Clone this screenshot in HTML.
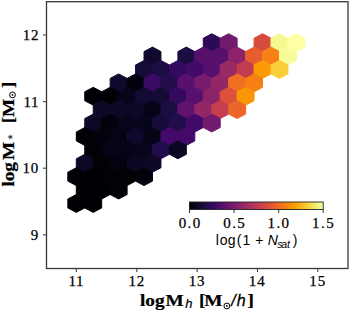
<!DOCTYPE html>
<html><head><meta charset="utf-8"><style>
html,body{margin:0;padding:0;background:#fff;}
body{width:350px;height:311px;overflow:hidden;}
svg{display:block;}
</style></head><body>
<svg width="350" height="311" viewBox="0 0 350 311">
<defs><linearGradient id="cb" x1="0" x2="1" y1="0" y2="0"><stop offset="0.0000" stop-color="#000004"/><stop offset="0.0312" stop-color="#040312"/><stop offset="0.0625" stop-color="#0b0724"/><stop offset="0.0938" stop-color="#150b37"/><stop offset="0.1250" stop-color="#210c4a"/><stop offset="0.1562" stop-color="#2f0a5b"/><stop offset="0.1875" stop-color="#3d0965"/><stop offset="0.2188" stop-color="#4a0c6b"/><stop offset="0.2500" stop-color="#57106e"/><stop offset="0.2812" stop-color="#64156e"/><stop offset="0.3125" stop-color="#71196e"/><stop offset="0.3438" stop-color="#7d1e6d"/><stop offset="0.3750" stop-color="#8a226a"/><stop offset="0.4062" stop-color="#972766"/><stop offset="0.4375" stop-color="#a32c61"/><stop offset="0.4688" stop-color="#b0315b"/><stop offset="0.5000" stop-color="#bc3754"/><stop offset="0.5312" stop-color="#c73e4c"/><stop offset="0.5625" stop-color="#d24644"/><stop offset="0.5938" stop-color="#db503b"/><stop offset="0.6250" stop-color="#e45a31"/><stop offset="0.6562" stop-color="#eb6628"/><stop offset="0.6875" stop-color="#f1731d"/><stop offset="0.7188" stop-color="#f68013"/><stop offset="0.7500" stop-color="#f98e09"/><stop offset="0.7812" stop-color="#fb9d07"/><stop offset="0.8125" stop-color="#fcac11"/><stop offset="0.8438" stop-color="#fbbc21"/><stop offset="0.8750" stop-color="#f9cb35"/><stop offset="0.9062" stop-color="#f5db4c"/><stop offset="0.9375" stop-color="#f2ea69"/><stop offset="0.9688" stop-color="#f3f68a"/><stop offset="1.0000" stop-color="#fcffa4"/></linearGradient></defs>
<g stroke-width="1.0" stroke-linejoin="miter">
<polygon points="220.21,47.12 220.21,38.18 211.74,33.72 203.28,38.18 203.28,47.12 211.74,51.58" fill="#2b0b57" stroke="#2b0b57"/>
<polygon points="237.14,47.12 237.14,38.18 228.67,33.72 220.21,38.18 220.21,47.12 228.67,51.58" fill="#721a6e" stroke="#721a6e"/>
<polygon points="270.99,47.12 270.99,38.18 262.53,33.72 254.06,38.18 254.06,47.12 262.53,51.58" fill="#d74b3f" stroke="#d74b3f"/>
<polygon points="287.92,47.12 287.92,38.18 279.46,33.72 271.00,38.18 271.00,47.12 279.46,51.58" fill="#f5f992" stroke="#f5f992"/>
<polygon points="304.85,47.12 304.85,38.18 296.39,33.72 287.93,38.18 287.93,47.12 296.39,51.58" fill="#fcffa4" stroke="#fcffa4"/>
<polygon points="160.95,60.52 160.95,51.58 152.49,47.12 144.02,51.58 144.02,60.52 152.49,64.98" fill="#10092d" stroke="#10092d"/>
<polygon points="194.81,60.52 194.81,51.58 186.34,47.12 177.88,51.58 177.88,60.52 186.34,64.98" fill="#1b0c41" stroke="#1b0c41"/>
<polygon points="211.74,60.52 211.74,51.58 203.27,47.12 194.81,51.58 194.81,60.52 203.27,64.98" fill="#57106e" stroke="#57106e"/>
<polygon points="228.67,60.52 228.67,51.58 220.20,47.12 211.74,51.58 211.74,60.52 220.20,64.98" fill="#57106e" stroke="#57106e"/>
<polygon points="245.60,60.52 245.60,51.58 237.13,47.12 228.67,51.58 228.67,60.52 237.13,64.98" fill="#8c2369" stroke="#8c2369"/>
<polygon points="262.53,60.52 262.53,51.58 254.06,47.12 245.60,51.58 245.60,60.52 254.06,64.98" fill="#e75e2e" stroke="#e75e2e"/>
<polygon points="279.46,60.52 279.46,51.58 271.00,47.12 262.53,51.58 262.53,60.52 271.00,64.98" fill="#f68013" stroke="#f68013"/>
<polygon points="296.39,60.52 296.39,51.58 287.93,47.12 279.46,51.58 279.46,60.52 287.93,64.98" fill="#f8fb9a" stroke="#f8fb9a"/>
<polygon points="152.48,73.92 152.48,64.98 144.02,60.52 135.55,64.98 135.55,73.92 144.02,78.38" fill="#160b39" stroke="#160b39"/>
<polygon points="169.41,73.92 169.41,64.98 160.95,60.52 152.48,64.98 152.48,73.92 160.95,78.38" fill="#1e0c45" stroke="#1e0c45"/>
<polygon points="186.34,73.92 186.34,64.98 177.88,60.52 169.41,64.98 169.41,73.92 177.88,78.38" fill="#340a5f" stroke="#340a5f"/>
<polygon points="203.28,73.92 203.28,64.98 194.81,60.52 186.34,64.98 186.34,73.92 194.81,78.38" fill="#420a68" stroke="#420a68"/>
<polygon points="220.21,73.92 220.21,64.98 211.74,60.52 203.28,64.98 203.28,73.92 211.74,78.38" fill="#57106e" stroke="#57106e"/>
<polygon points="237.14,73.92 237.14,64.98 228.67,60.52 220.21,64.98 220.21,73.92 228.67,78.38" fill="#9b2964" stroke="#9b2964"/>
<polygon points="254.07,73.92 254.07,64.98 245.60,60.52 237.14,64.98 237.14,73.92 245.60,78.38" fill="#c33b4f" stroke="#c33b4f"/>
<polygon points="270.99,73.92 270.99,64.98 262.53,60.52 254.06,64.98 254.06,73.92 262.53,78.38" fill="#fb9b06" stroke="#fb9b06"/>
<polygon points="287.92,73.92 287.92,64.98 279.46,60.52 271.00,64.98 271.00,73.92 279.46,78.38" fill="#f8cf3a" stroke="#f8cf3a"/>
<polygon points="127.09,87.32 127.09,78.38 118.62,73.92 110.16,78.38 110.16,87.32 118.62,91.78" fill="#10092d" stroke="#10092d"/>
<polygon points="144.02,87.32 144.02,78.38 135.56,73.92 127.09,78.38 127.09,87.32 135.56,91.78" fill="#02020c" stroke="#02020c"/>
<polygon points="160.95,87.32 160.95,78.38 152.49,73.92 144.02,78.38 144.02,87.32 152.49,91.78" fill="#390963" stroke="#390963"/>
<polygon points="177.88,87.32 177.88,78.38 169.42,73.92 160.95,78.38 160.95,87.32 169.42,91.78" fill="#230c4c" stroke="#230c4c"/>
<polygon points="194.81,87.32 194.81,78.38 186.34,73.92 177.88,78.38 177.88,87.32 186.34,91.78" fill="#57106e" stroke="#57106e"/>
<polygon points="211.74,87.32 211.74,78.38 203.27,73.92 194.81,78.38 194.81,87.32 203.27,91.78" fill="#771c6d" stroke="#771c6d"/>
<polygon points="228.67,87.32 228.67,78.38 220.20,73.92 211.74,78.38 211.74,87.32 220.20,91.78" fill="#932667" stroke="#932667"/>
<polygon points="245.60,87.32 245.60,78.38 237.13,73.92 228.67,78.38 228.67,87.32 237.13,91.78" fill="#f06f20" stroke="#f06f20"/>
<polygon points="262.53,87.32 262.53,78.38 254.06,73.92 245.60,78.38 245.60,87.32 254.06,91.78" fill="#f68013" stroke="#f68013"/>
<polygon points="101.69,100.72 101.69,91.78 93.23,87.32 84.76,91.78 84.76,100.72 93.23,105.18" fill="#000004" stroke="#000004"/>
<polygon points="118.62,100.72 118.62,91.78 110.16,87.32 101.69,91.78 101.69,100.72 110.16,105.18" fill="#010106" stroke="#010106"/>
<polygon points="135.56,100.72 135.56,91.78 127.09,87.32 118.62,91.78 118.62,100.72 127.09,105.18" fill="#07051b" stroke="#07051b"/>
<polygon points="152.48,100.72 152.48,91.78 144.02,87.32 135.55,91.78 135.55,100.72 144.02,105.18" fill="#140b34" stroke="#140b34"/>
<polygon points="169.41,100.72 169.41,91.78 160.95,87.32 152.48,91.78 152.48,100.72 160.95,105.18" fill="#140b34" stroke="#140b34"/>
<polygon points="186.34,100.72 186.34,91.78 177.88,87.32 169.41,91.78 169.41,100.72 177.88,105.18" fill="#340a5f" stroke="#340a5f"/>
<polygon points="203.28,100.72 203.28,91.78 194.81,87.32 186.34,91.78 186.34,100.72 194.81,105.18" fill="#57106e" stroke="#57106e"/>
<polygon points="220.21,100.72 220.21,91.78 211.74,87.32 203.28,91.78 203.28,100.72 211.74,105.18" fill="#8c2369" stroke="#8c2369"/>
<polygon points="237.14,100.72 237.14,91.78 228.67,87.32 220.21,91.78 220.21,100.72 228.67,105.18" fill="#dd513a" stroke="#dd513a"/>
<polygon points="254.07,100.72 254.07,91.78 245.60,87.32 237.14,91.78 237.14,100.72 245.60,105.18" fill="#fb9706" stroke="#fb9706"/>
<polygon points="110.16,114.12 110.16,105.18 101.69,100.72 93.23,105.18 93.23,114.12 101.69,118.58" fill="#0c0826" stroke="#0c0826"/>
<polygon points="127.09,114.12 127.09,105.18 118.62,100.72 110.16,105.18 110.16,114.12 118.62,118.58" fill="#0c0826" stroke="#0c0826"/>
<polygon points="144.02,114.12 144.02,105.18 135.56,100.72 127.09,105.18 127.09,114.12 135.56,118.58" fill="#0c0826" stroke="#0c0826"/>
<polygon points="160.95,114.12 160.95,105.18 152.49,100.72 144.02,105.18 144.02,114.12 152.49,118.58" fill="#050417" stroke="#050417"/>
<polygon points="177.88,114.12 177.88,105.18 169.42,100.72 160.95,105.18 160.95,114.12 169.42,118.58" fill="#1b0c41" stroke="#1b0c41"/>
<polygon points="194.81,114.12 194.81,105.18 186.34,100.72 177.88,105.18 177.88,114.12 186.34,118.58" fill="#5f136e" stroke="#5f136e"/>
<polygon points="211.74,114.12 211.74,105.18 203.27,100.72 194.81,105.18 194.81,114.12 203.27,118.58" fill="#932667" stroke="#932667"/>
<polygon points="228.67,114.12 228.67,105.18 220.20,100.72 211.74,105.18 211.74,114.12 220.20,118.58" fill="#c63d4d" stroke="#c63d4d"/>
<polygon points="245.60,114.12 245.60,105.18 237.13,100.72 228.67,105.18 228.67,114.12 237.13,118.58" fill="#eb6628" stroke="#eb6628"/>
<polygon points="101.69,127.52 101.69,118.58 93.23,114.12 84.76,118.58 84.76,127.52 93.23,131.98" fill="#0c0826" stroke="#0c0826"/>
<polygon points="118.62,127.52 118.62,118.58 110.16,114.12 101.69,118.58 101.69,127.52 110.16,131.98" fill="#02020c" stroke="#02020c"/>
<polygon points="135.56,127.52 135.56,118.58 127.09,114.12 118.62,118.58 118.62,127.52 127.09,131.98" fill="#07051b" stroke="#07051b"/>
<polygon points="152.48,127.52 152.48,118.58 144.02,114.12 135.55,118.58 135.55,127.52 144.02,131.98" fill="#07051b" stroke="#07051b"/>
<polygon points="169.41,127.52 169.41,118.58 160.95,114.12 152.48,118.58 152.48,127.52 160.95,131.98" fill="#160b39" stroke="#160b39"/>
<polygon points="186.34,127.52 186.34,118.58 177.88,114.12 169.41,118.58 169.41,127.52 177.88,131.98" fill="#230c4c" stroke="#230c4c"/>
<polygon points="203.28,127.52 203.28,118.58 194.81,114.12 186.34,118.58 186.34,127.52 194.81,131.98" fill="#420a68" stroke="#420a68"/>
<polygon points="220.21,127.52 220.21,118.58 211.74,114.12 203.28,118.58 203.28,127.52 211.74,131.98" fill="#721a6e" stroke="#721a6e"/>
<polygon points="93.23,140.92 93.23,131.98 84.77,127.52 76.30,131.98 76.30,140.92 84.77,145.38" fill="#010106" stroke="#010106"/>
<polygon points="110.16,140.92 110.16,131.98 101.69,127.52 93.23,131.98 93.23,140.92 101.69,145.38" fill="#02020c" stroke="#02020c"/>
<polygon points="127.09,140.92 127.09,131.98 118.62,127.52 110.16,131.98 110.16,140.92 118.62,145.38" fill="#050417" stroke="#050417"/>
<polygon points="144.02,140.92 144.02,131.98 135.56,127.52 127.09,131.98 127.09,140.92 135.56,145.38" fill="#10092d" stroke="#10092d"/>
<polygon points="160.95,140.92 160.95,131.98 152.49,127.52 144.02,131.98 144.02,140.92 152.49,145.38" fill="#050417" stroke="#050417"/>
<polygon points="177.88,140.92 177.88,131.98 169.42,127.52 160.95,131.98 160.95,140.92 169.42,145.38" fill="#450a69" stroke="#450a69"/>
<polygon points="194.81,140.92 194.81,131.98 186.34,127.52 177.88,131.98 177.88,140.92 186.34,145.38" fill="#450a69" stroke="#450a69"/>
<polygon points="101.69,154.32 101.69,145.38 93.23,140.92 84.76,145.38 84.76,154.32 93.23,158.78" fill="#010106" stroke="#010106"/>
<polygon points="118.62,154.32 118.62,145.38 110.16,140.92 101.69,145.38 101.69,154.32 110.16,158.78" fill="#050417" stroke="#050417"/>
<polygon points="135.56,154.32 135.56,145.38 127.09,140.92 118.62,145.38 118.62,154.32 127.09,158.78" fill="#050417" stroke="#050417"/>
<polygon points="152.48,154.32 152.48,145.38 144.02,140.92 135.55,145.38 135.55,154.32 144.02,158.78" fill="#07051b" stroke="#07051b"/>
<polygon points="169.41,154.32 169.41,145.38 160.95,140.92 152.48,145.38 152.48,154.32 160.95,158.78" fill="#230c4c" stroke="#230c4c"/>
<polygon points="186.34,154.32 186.34,145.38 177.88,140.92 169.41,145.38 169.41,154.32 177.88,158.78" fill="#0a0722" stroke="#0a0722"/>
<polygon points="93.23,167.72 93.23,158.78 84.77,154.32 76.30,158.78 76.30,167.72 84.77,172.18" fill="#0c0826" stroke="#0c0826"/>
<polygon points="110.16,167.72 110.16,158.78 101.69,154.32 93.23,158.78 93.23,167.72 101.69,172.18" fill="#010106" stroke="#010106"/>
<polygon points="127.09,167.72 127.09,158.78 118.62,154.32 110.16,158.78 110.16,167.72 118.62,172.18" fill="#030210" stroke="#030210"/>
<polygon points="144.02,167.72 144.02,158.78 135.56,154.32 127.09,158.78 127.09,167.72 135.56,172.18" fill="#0a0722" stroke="#0a0722"/>
<polygon points="160.95,167.72 160.95,158.78 152.49,154.32 144.02,158.78 144.02,167.72 152.49,172.18" fill="#0c0826" stroke="#0c0826"/>
<polygon points="84.77,181.12 84.77,172.18 76.30,167.72 67.83,172.18 67.83,181.12 76.30,185.58" fill="#010106" stroke="#010106"/>
<polygon points="101.69,181.12 101.69,172.18 93.23,167.72 84.76,172.18 84.76,181.12 93.23,185.58" fill="#000004" stroke="#000004"/>
<polygon points="118.62,181.12 118.62,172.18 110.16,167.72 101.69,172.18 101.69,181.12 110.16,185.58" fill="#010106" stroke="#010106"/>
<polygon points="135.56,181.12 135.56,172.18 127.09,167.72 118.62,172.18 118.62,181.12 127.09,185.58" fill="#010106" stroke="#010106"/>
<polygon points="152.48,181.12 152.48,172.18 144.02,167.72 135.55,172.18 135.55,181.12 144.02,185.58" fill="#02020c" stroke="#02020c"/>
<polygon points="93.23,194.52 93.23,185.58 84.77,181.12 76.30,185.58 76.30,194.52 84.77,198.98" fill="#000004" stroke="#000004"/>
<polygon points="110.16,194.52 110.16,185.58 101.69,181.12 93.23,185.58 93.23,194.52 101.69,198.98" fill="#000004" stroke="#000004"/>
<polygon points="127.09,194.52 127.09,185.58 118.62,181.12 110.16,185.58 110.16,194.52 118.62,198.98" fill="#010106" stroke="#010106"/>
<polygon points="84.77,207.92 84.77,198.98 76.30,194.52 67.83,198.98 67.83,207.92 76.30,212.38" fill="#000004" stroke="#000004"/>
<polygon points="101.69,207.92 101.69,198.98 93.23,194.52 84.76,198.98 84.76,207.92 93.23,212.38" fill="#000004" stroke="#000004"/>
</g>
<rect x="46.5" y="1.7" width="301.5" height="266.8" fill="none" stroke="#383838" stroke-width="1.3"/>
<g stroke="#444" stroke-width="1.1">
<line x1="76.40" y1="268.5" x2="76.40" y2="272.0"/>
<line x1="136.75" y1="268.5" x2="136.75" y2="272.0"/>
<line x1="197.10" y1="268.5" x2="197.10" y2="272.0"/>
<line x1="257.45" y1="268.5" x2="257.45" y2="272.0"/>
<line x1="317.80" y1="268.5" x2="317.80" y2="272.0"/>
<line x1="43.0" y1="234.80" x2="46.5" y2="234.80"/>
<line x1="43.0" y1="168.20" x2="46.5" y2="168.20"/>
<line x1="43.0" y1="101.60" x2="46.5" y2="101.60"/>
<line x1="43.0" y1="35.00" x2="46.5" y2="35.00"/>
<line x1="189.50" y1="209.5" x2="189.50" y2="213.0"/>
<line x1="234.07" y1="209.5" x2="234.07" y2="213.0"/>
<line x1="278.63" y1="209.5" x2="278.63" y2="213.0"/>
<line x1="323.20" y1="209.5" x2="323.20" y2="213.0"/>
</g>
<rect x="189.5" y="202.0" width="133.7" height="7.5" fill="url(#cb)" stroke="#222" stroke-width="0.9"/>
<text x="68.38" y="285.90" font-family='"Liberation Serif",serif' font-weight="normal" font-style="normal" font-size="15" letter-spacing="0.8" stroke="#000" stroke-width="0.25" fill="#000">11</text>
<text x="128.43" y="285.90" font-family='"Liberation Serif",serif' font-weight="normal" font-style="normal" font-size="15" letter-spacing="0.8" stroke="#000" stroke-width="0.25" fill="#000">12</text>
<text x="188.66" y="285.90" font-family='"Liberation Serif",serif' font-weight="normal" font-style="normal" font-size="15" letter-spacing="0.8" stroke="#000" stroke-width="0.25" fill="#000">13</text>
<text x="248.83" y="285.90" font-family='"Liberation Serif",serif' font-weight="normal" font-style="normal" font-size="15" letter-spacing="0.8" stroke="#000" stroke-width="0.25" fill="#000">14</text>
<text x="309.36" y="285.90" font-family='"Liberation Serif",serif' font-weight="normal" font-style="normal" font-size="15" letter-spacing="0.8" stroke="#000" stroke-width="0.25" fill="#000">15</text>
<text x="30.80" y="239.80" font-family='"Liberation Serif",serif' font-weight="normal" font-style="normal" font-size="15" letter-spacing="0.7" stroke="#000" stroke-width="0.25" fill="#000">9</text>
<text x="22.60" y="173.20" font-family='"Liberation Serif",serif' font-weight="normal" font-style="normal" font-size="15" letter-spacing="0.7" stroke="#000" stroke-width="0.25" fill="#000">10</text>
<text x="23.43" y="106.60" font-family='"Liberation Serif",serif' font-weight="normal" font-style="normal" font-size="15" letter-spacing="0.7" stroke="#000" stroke-width="0.25" fill="#000">11</text>
<text x="22.83" y="40.00" font-family='"Liberation Serif",serif' font-weight="normal" font-style="normal" font-size="15" letter-spacing="0.7" stroke="#000" stroke-width="0.25" fill="#000">12</text>
<text x="178.72" y="227.60" font-family='"Liberation Serif",serif' font-weight="normal" font-style="normal" font-size="15" letter-spacing="1.4" stroke="#000" stroke-width="0.25" fill="#000">0.0</text>
<text x="223.29" y="227.60" font-family='"Liberation Serif",serif' font-weight="normal" font-style="normal" font-size="15" letter-spacing="1.4" stroke="#000" stroke-width="0.25" fill="#000">0.5</text>
<text x="267.52" y="227.60" font-family='"Liberation Serif",serif' font-weight="normal" font-style="normal" font-size="15" letter-spacing="1.4" stroke="#000" stroke-width="0.25" fill="#000">1.0</text>
<text x="312.09" y="227.60" font-family='"Liberation Serif",serif' font-weight="normal" font-style="normal" font-size="15" letter-spacing="1.4" stroke="#000" stroke-width="0.25" fill="#000">1.5</text>
<text x="215.81" y="245.00" font-family='"Liberation Sans",sans-serif' font-weight="normal" font-style="normal" font-size="14" fill="#000">l</text>
<text x="219.77" y="245.00" font-family='"Liberation Sans",sans-serif' font-weight="normal" font-style="normal" font-size="14" fill="#000">o</text>
<text x="227.69" y="245.00" font-family='"Liberation Sans",sans-serif' font-weight="normal" font-style="normal" font-size="14" fill="#000">g</text>
<text x="236.71" y="245.00" font-family='"Liberation Sans",sans-serif' font-weight="normal" font-style="normal" font-size="14" fill="#000">(</text>
<text x="242.56" y="245.00" font-family='"Liberation Sans",sans-serif' font-weight="normal" font-style="normal" font-size="14" fill="#000">1</text>
<text x="255.26" y="245.00" font-family='"Liberation Sans",sans-serif' font-weight="normal" font-style="normal" font-size="14" fill="#000">+</text>
<text x="292.72" y="245.00" font-family='"Liberation Sans",sans-serif' font-weight="normal" font-style="normal" font-size="14" fill="#000">)</text>
<text x="267.71" y="245.00" font-family='"Liberation Sans",sans-serif' font-weight="normal" font-style="italic" font-size="14" fill="#000">N</text>
<text x="277.25" y="247.60" font-family='"Liberation Sans",sans-serif' font-weight="normal" font-style="italic" font-size="10.5" fill="#000">s</text>
<text x="281.17" y="247.60" font-family='"Liberation Sans",sans-serif' font-weight="normal" font-style="italic" font-size="10.5" fill="#000">a</text>
<text x="286.91" y="247.60" font-family='"Liberation Sans",sans-serif' font-weight="normal" font-style="italic" font-size="10.5" fill="#000">t</text>
<text transform="translate(140.06,306.00) scale(1.1,1)" font-family='"Liberation Serif",serif' font-weight="bold" font-style="normal" font-size="17.5" stroke="#000" stroke-width="0.25" fill="#000">l</text>
<text transform="translate(145.19,306.00) scale(1.1,1)" font-family='"Liberation Serif",serif' font-weight="bold" font-style="normal" font-size="17.5" stroke="#000" stroke-width="0.25" fill="#000">o</text>
<text transform="translate(154.94,306.00) scale(1.1,1)" font-family='"Liberation Serif",serif' font-weight="bold" font-style="normal" font-size="17.5" stroke="#000" stroke-width="0.25" fill="#000">g</text>
<text transform="translate(165.50,306.00) scale(1.1,1)" font-family='"Liberation Serif",serif' font-weight="bold" font-style="normal" font-size="17.5" stroke="#000" stroke-width="0.25" fill="#000">M</text>
<text transform="translate(198.94,306.00) scale(1.1,1)" font-family='"Liberation Serif",serif' font-weight="bold" font-style="normal" font-size="17.5" stroke="#000" stroke-width="0.25" fill="#000">[</text>
<text transform="translate(204.20,306.00) scale(1.1,1)" font-family='"Liberation Serif",serif' font-weight="bold" font-style="normal" font-size="17.5" stroke="#000" stroke-width="0.25" fill="#000">M</text>
<text transform="translate(247.56,306.00) scale(1.1,1)" font-family='"Liberation Serif",serif' font-weight="bold" font-style="normal" font-size="17.5" stroke="#000" stroke-width="0.25" fill="#000">]</text>
<text x="185.19" y="307.80" font-family='"Liberation Sans",sans-serif' font-weight="normal" font-style="italic" font-size="13" stroke="#000" stroke-width="0.2" fill="#000">h</text>
<text x="231.27" y="306.00" font-family='"Liberation Sans",sans-serif' font-weight="normal" font-style="italic" font-size="16" stroke="#000" stroke-width="0.3" fill="#000">/</text>
<text x="236.85" y="306.00" font-family='"Liberation Sans",sans-serif' font-weight="normal" font-style="italic" font-size="16" stroke="#000" stroke-width="0.3" fill="#000">h</text>
<circle cx="226.85" cy="306.0" r="2.9" fill="none" stroke="#000" stroke-width="1.0"/><circle cx="226.85" cy="306.0" r="0.9" fill="#000"/>
<g transform="translate(14.1,186) rotate(-90)">
<text transform="translate(-0.40,0.00) scale(1.1,1)" font-family='"Liberation Serif",serif' font-weight="bold" font-style="normal" font-size="17.5" stroke="#000" stroke-width="0.25" fill="#000">l</text>
<text transform="translate(4.69,0.00) scale(1.1,1)" font-family='"Liberation Serif",serif' font-weight="bold" font-style="normal" font-size="17.5" stroke="#000" stroke-width="0.25" fill="#000">o</text>
<text transform="translate(14.34,0.00) scale(1.1,1)" font-family='"Liberation Serif",serif' font-weight="bold" font-style="normal" font-size="17.5" stroke="#000" stroke-width="0.25" fill="#000">g</text>
<text transform="translate(26.05,0.00) scale(1.1,1)" font-family='"Liberation Serif",serif' font-weight="bold" font-style="normal" font-size="17.5" stroke="#000" stroke-width="0.25" fill="#000">M</text>
<text transform="translate(62.64,0.00) scale(1.1,1)" font-family='"Liberation Serif",serif' font-weight="bold" font-style="normal" font-size="17.5" stroke="#000" stroke-width="0.25" fill="#000">[</text>
<text transform="translate(68.90,0.00) scale(1.1,1)" font-family='"Liberation Serif",serif' font-weight="bold" font-style="normal" font-size="17.5" stroke="#000" stroke-width="0.25" fill="#000">M</text>
<text transform="translate(97.96,0.00) scale(1.1,1)" font-family='"Liberation Serif",serif' font-weight="bold" font-style="normal" font-size="17.5" stroke="#000" stroke-width="0.25" fill="#000">]</text>
<text x="46.52" y="3.20" font-family='"Liberation Sans",sans-serif' font-weight="normal" font-style="normal" font-size="13" fill="#000">*</text>
<circle cx="91.1" cy="-1.6" r="2.9" fill="none" stroke="#000" stroke-width="1.0"/><circle cx="91.1" cy="-1.6" r="0.9" fill="#000"/>
</g>
</svg>
</body></html>
